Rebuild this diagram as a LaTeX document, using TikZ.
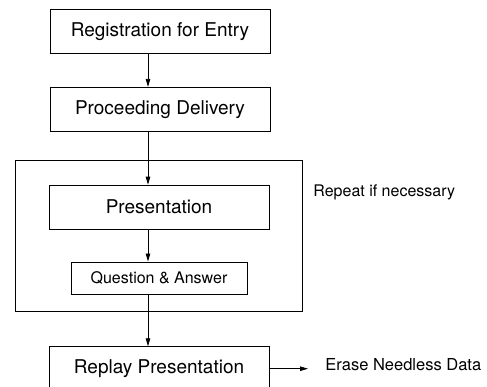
\documentclass[tikz,border=0pt]{standalone}
\usepackage{fontspec}
\setmainfont{TeX Gyre Heros}
\usetikzlibrary{arrows.meta,positioning}

\begin{document}
\begin{tikzpicture}[x=1pt,y=-1pt,>={Triangle[length=8pt,width=4.5pt]},
line width=0.8pt,
stepbox/.style={draw,inner sep=0pt,minimum width=220pt,minimum height=44pt,font=\fontsize{19}{22}\selectfont},
smallbox/.style={draw,inner sep=0pt,minimum width=176pt,minimum height=32pt,font=\fontsize{16}{19}\selectfont},
note/.style={anchor=west,inner sep=0pt,font=\fontsize{16}{19}\selectfont},
arr/.style={->}]
\useasboundingbox (0,0) rectangle (487,386);
\node[stepbox] (reg) at (160,31.5) {Registration for Entry};
\node[stepbox,below=33pt of reg] (deliv) {Proceeding Delivery};
\node[stepbox,below=53pt of deliv,xshift=-1pt] (pres) {Presentation};
\node[smallbox,below=32pt of pres] (qa) {Question \& Answer};
\node[stepbox,below=52pt of qa] (replay) {Replay Presentation};
\node[draw,inner sep=0pt,minimum width=287pt,minimum height=151pt] (loop) at (158.5,235.5) {};
\node[note] (repeat) at (313,192) {Repeat if necessary};
\node[note,font=\fontsize{16.5}{19}\selectfont] (erase) at (325,365) {Erase Needless Data};
\coordinate (spine) at (148,0);
\draw[arr] (reg.south -| spine)--(deliv.north -| spine);
\draw[arr] (deliv.south -| spine)--(pres.north -| spine);
\draw[arr] (pres.south -| spine)--(qa.north -| spine);
\draw[arr] (qa.south -| spine)--(replay.north -| spine);
\draw[arr] (replay.east)--([xshift=-17pt]erase.west |- replay.east);
\end{tikzpicture}
\end{document}
